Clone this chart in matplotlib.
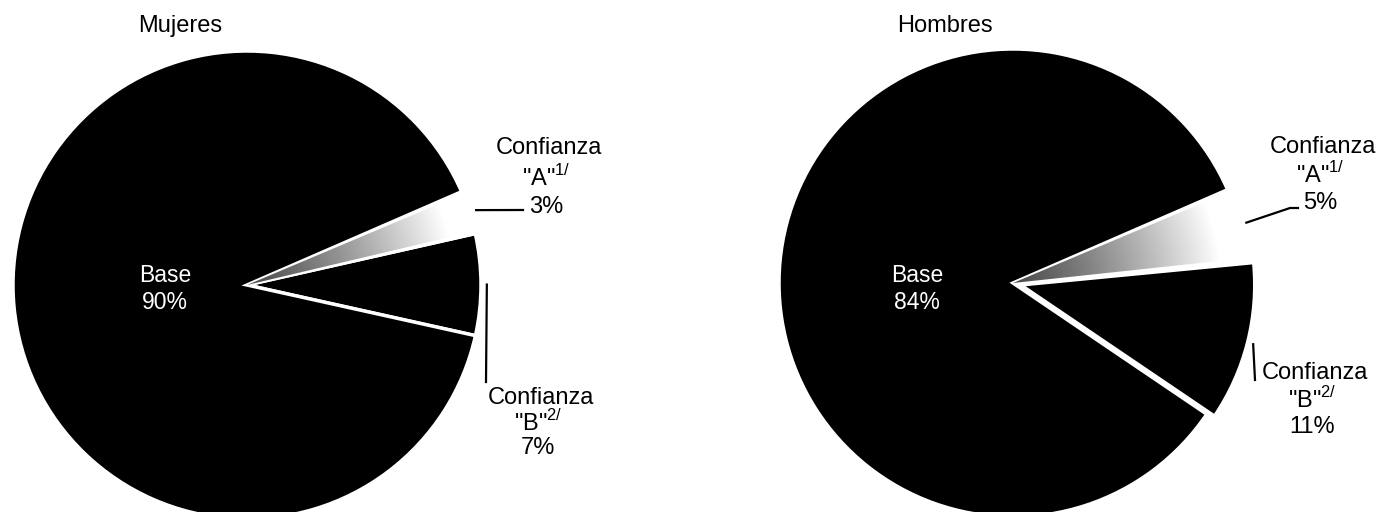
import matplotlib.pyplot as plt
import numpy as np
from matplotlib.patches import Wedge

plt.rcParams['font.family'] = ['Liberation Sans', 'DejaVu Sans']

groups = ["Mujeres", "Hombres"]
# order in each pie: Confianza "B", Confianza "A", Base
base = [90, 84]
conf_a = [3, 5]
conf_b = [7, 11]

centers = [(247, 227), (1013, 229)]
radius = 234
explode_b = [0.0, 8.0]  # pie() takes explode in data units here
base_txt = [(165, 223), (917, 223)]
title_pos = [(180, 486), (945, 486)]
# leader-line end points and label anchors (pixels, y up)
a_line_end = [[(523, 302)], [(1290, 304), (1298, 304)]]
a_label = [(546, 364), (1320, 365)]
a_step = [29.5, 28]
b_line_end = [[(486, 130)], [(1255, 132)]]
b_label = [(538, 114), (1312, 139)]
b_step = [25, 27]

fig = plt.figure(figsize=(13.78, 5.12), dpi=100)
ax = fig.add_axes([0, 0, 1, 1])


def label_block(x, y, step, letter, sup, pct):
    ax.text(x + 3, y, "Confianza", ha="center", va="center", fontsize=17)
    ax.text(x, y - step, '"%s"$^{\\mathregular{%s}}$' % (letter, sup),
            ha="center", va="center", fontsize=17)
    ax.text(x, y - 2 * step, "%d%%" % pct, ha="center", va="center", fontsize=17)


for i, name in enumerate(groups):
    vals = [conf_b[i], conf_a[i], base[i]]
    start = 23.5 - 3.6 * (conf_a[i] + conf_b[i])
    wedges, _ = ax.pie(vals, center=centers[i], radius=radius, startangle=start,
                       colors=["black", "white", "black"],
                       explode=[explode_b[i], 0, 0],
                       wedgeprops=dict(edgecolor="white", linewidth=2.5))
    wb, wa, wbase = wedges

    # stippled "A" slice: radial gray fading outward
    cx, cy = wa.center
    gx = np.linspace(cx - radius, cx + radius, 300)
    gy = np.linspace(cy - radius, cy + radius, 300)
    GX, GY = np.meshgrid(gx, gy)
    rr = np.hypot(GX - cx, GY - cy) / radius
    shade = np.clip(0.3 + 0.8 * rr ** 1.2, 0, 1)
    im = ax.imshow(shade, extent=(gx[0], gx[-1], gy[0], gy[-1]), origin="lower",
                   cmap="gray", vmin=0, vmax=1, zorder=2, interpolation="bilinear")
    clip = Wedge(wa.center, wa.r * 0.99, wa.theta1 + 0.6, wa.theta2 - 0.6,
                 transform=ax.transData)
    im.set_clip_path(clip)

    # leader line for A
    ma = np.deg2rad((wa.theta1 + wa.theta2) / 2)
    p0 = (cx + 1.03 * radius * np.cos(ma), cy + 1.03 * radius * np.sin(ma))
    pts = [p0] + a_line_end[i]
    ax.plot([p[0] for p in pts], [p[1] for p in pts], color="black", lw=1.6, zorder=3)
    label_block(a_label[i][0], a_label[i][1], a_step[i], "A", "1/", conf_a[i])

    # leader line for B
    bx, by = wb.center
    mb = np.deg2rad((wb.theta1 + wb.theta2) / 2)
    q0 = (bx + 1.025 * radius * np.cos(mb), by + 1.025 * radius * np.sin(mb))
    pts = [q0] + b_line_end[i]
    ax.plot([p[0] for p in pts], [p[1] for p in pts], color="black", lw=1.6, zorder=3)
    label_block(b_label[i][0], b_label[i][1], b_step[i], "B", "2/", conf_b[i])

    ax.text(base_txt[i][0], base_txt[i][1], "Base\n%d%%" % base[i], color="white",
            ha="center", va="center", fontsize=16.5, linespacing=1.25, zorder=4)
    ax.text(title_pos[i][0], title_pos[i][1], name, ha="center", va="center",
            fontsize=17)

ax.set_xlim(0, 1378)
ax.set_ylim(0, 512)
ax.set_aspect("equal")
ax.axis("off")

fig.savefig("out.png", dpi=100)
